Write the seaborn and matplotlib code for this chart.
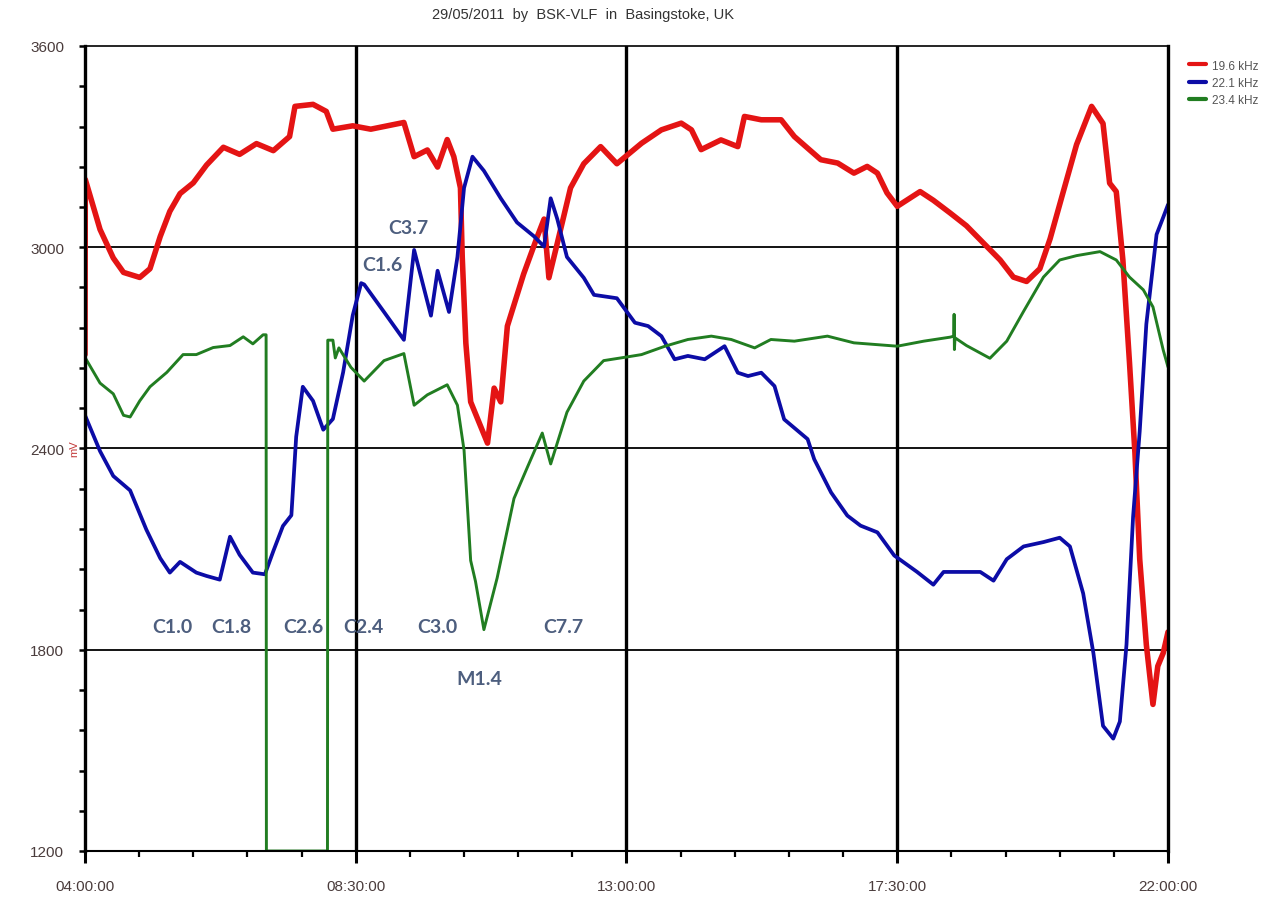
import numpy as np
import pandas as pd
import matplotlib
matplotlib.use("Agg")
import matplotlib.pyplot as plt
from matplotlib.lines import Line2D
import seaborn as sns

# ---------------------------------------------------------------------------
# Data (time in decimal hours, amplitude in mV)
# ---------------------------------------------------------------------------
red_t = [4.0, 4.005, 4.25, 4.47, 4.64, 4.91, 5.08, 5.25, 5.41, 5.58, 5.80, 6.02, 6.30, 6.57,
         6.85, 7.13, 7.40, 7.49, 7.79, 8.01, 8.12, 8.45, 8.75, 9.30, 9.47, 9.69, 9.86, 10.02,
         10.13, 10.24, 10.27, 10.33, 10.41, 10.69, 10.80, 10.91, 11.02, 11.29, 11.52, 11.63,
         11.71, 11.85, 12.07, 12.29, 12.57, 12.84, 13.25, 13.58, 13.91, 14.08, 14.24, 14.57,
         14.85, 14.96, 15.24, 15.57, 15.79, 16.23, 16.51, 16.78, 17.00, 17.17, 17.33, 17.50,
         17.88, 18.10, 18.38, 18.65, 18.93, 19.21, 19.43, 19.65, 19.87, 20.04, 20.26, 20.48,
         20.73, 20.92, 21.03, 21.14, 21.25, 21.36, 21.45, 21.53, 21.64, 21.75, 21.83, 21.92, 22.0]
red_mv = [2680, 3202, 3053, 2968, 2925, 2910, 2936, 3032, 3107, 3160, 3192, 3245, 3298, 3277,
          3309, 3288, 3330, 3420, 3426, 3405, 3352, 3362, 3352, 3372, 3270, 3290, 3239, 3321,
          3270, 3177, 2971, 2714, 2539, 2416, 2580, 2539, 2765, 2920, 3033, 3084,
          2909, 3012, 3177, 3249, 3300, 3249, 3310, 3350, 3370, 3350, 3291, 3320,
          3300, 3390, 3380, 3380, 3330, 3261, 3251, 3221, 3241, 3221, 3162, 3122,
          3166, 3140, 3102, 3064, 3013, 2962, 2911, 2898, 2936, 3025, 3166, 3306,
          3420, 3369, 3191, 3166, 2962, 2656, 2388, 2070, 1815, 1637, 1751, 1790, 1853]

blue_t = [4.0, 4.25, 4.47, 4.75, 5.02, 5.25, 5.41, 5.58, 5.85, 6.02, 6.24, 6.41, 6.57, 6.79,
          6.99, 7.13, 7.29, 7.43, 7.51, 7.62, 7.79, 7.96, 8.12, 8.29, 8.45, 8.59, 8.64, 8.97,
          9.30, 9.47, 9.75, 9.86, 10.05, 10.19, 10.30, 10.44, 10.63, 10.91, 11.18, 11.46, 11.63,
          11.74, 11.85, 12.01, 12.29, 12.46, 12.84, 13.14, 13.36, 13.58, 13.80, 14.02, 14.30,
          14.63, 14.85, 15.02, 15.24, 15.46, 15.62, 16.01, 16.12, 16.40, 16.67, 16.89, 17.17,
          17.45, 17.83, 18.10, 18.27, 18.65, 18.88, 19.10, 19.32, 19.60, 19.93, 20.20, 20.37,
          20.59, 20.76, 20.92, 21.09, 21.20, 21.31, 21.42, 21.53, 21.64, 21.81, 21.92, 22.0]
blue_mv = [2499, 2392, 2318, 2275, 2158, 2073, 2030, 2062, 2030, 2020, 2009, 2137, 2083, 2030,
           2025, 2094, 2169, 2201, 2435, 2584, 2542, 2456, 2488, 2627, 2797, 2893, 2889, 2807,
           2724, 2992, 2796, 2930, 2807, 2971, 3177, 3270, 3228, 3146, 3074, 3033, 3002,
           3146, 3084, 2971, 2909, 2858, 2848, 2775, 2765, 2735, 2666, 2676, 2666,
           2705, 2626, 2616, 2626, 2586, 2487, 2428, 2368, 2269, 2200, 2170, 2150,
           2081, 2032, 1994, 2032, 2032, 2032, 2006, 2070, 2108, 2121, 2134, 2108,
           1968, 1790, 1573, 1535, 1586, 1815, 2197, 2452, 2771, 3038, 3089, 3127]

green_t = [4.0, 4.005, 4.25, 4.47, 4.64, 4.75, 4.91, 5.08, 5.36, 5.63, 5.85, 6.13, 6.41, 6.63,
           6.79, 6.96, 7.01, 7.015, 8.03, 8.035, 8.12, 8.16, 8.22, 8.42, 8.64, 8.97, 9.30, 9.47,
           9.69, 10.02, 10.19, 10.30, 10.41, 10.49, 10.63, 10.85, 11.13, 11.35, 11.60, 11.74,
           12.01, 12.29, 12.62, 13.01, 13.25, 13.64, 14.02, 14.41, 14.74, 15.13, 15.40, 15.79,
           16.34, 16.78, 17.50, 17.94, 18.38, 18.44, 18.445, 18.45, 18.46, 18.65, 19.04, 19.32,
           19.60, 19.93, 20.20, 20.48, 20.87, 21.14, 21.36, 21.59, 21.75, 21.92, 22.0]
green_mv = [1200, 2670, 2595, 2563, 2499, 2494, 2542, 2584, 2627, 2680, 2680, 2701, 2707, 2733,
            2712, 2739, 2739, 1200, 1200, 2723, 2723, 2670, 2700, 2642, 2601, 2662, 2683, 2529,
            2560, 2590, 2529, 2395, 2066, 2004, 1860, 2014, 2251, 2343, 2446, 2354,
            2508, 2601, 2662, 2673, 2680, 2705, 2725, 2735, 2725, 2700, 2725, 2720,
            2735, 2715, 2705, 2720, 2732, 2735, 2800, 2695, 2730, 2707, 2669, 2720,
            2809, 2911, 2962, 2975, 2987, 2962, 2911, 2873, 2822, 2694, 2643]

series_names = ["19.6 kHz", "22.1 kHz", "23.4 kHz"]

x_ticks = [4.0, 8.5, 13.0, 17.5, 22.0]
x_tick_labels = ["04:00:00", "08:30:00", "13:00:00", "17:30:00", "22:00:00"]
y_ticks = [1200, 1800, 2400, 3000, 3600]

# flare annotations: label, time (h), mV
flare_labels = ["C1.0", "C1.8", "C2.6", "C2.4", "C3.0", "C7.7", "M1.4", "C3.7", "C1.6"]
flare_t = [5.45, 6.43, 7.63, 8.62, 9.85, 11.95, 10.55, 9.38, 8.95]
flare_mv = [1868, 1868, 1868, 1868, 1868, 1868, 1713, 3060, 2950]

# ---------------------------------------------------------------------------
# Styling
# ---------------------------------------------------------------------------
RED = "#e41414"
BLUE = "#0c0ca6"
GREEN = "#217d21"
TICK_TEXT = "#4a3c3c"
NOTE_TEXT = "#4d5e7e"

sns.set_theme(style="white")
plt.rcParams["font.family"] = ["Liberation Sans", "DejaVu Sans"]

frames = []
for name, t, v in zip(series_names, [red_t, blue_t, green_t], [red_mv, blue_mv, green_mv]):
    frames.append(pd.DataFrame({"time": t, "mV": v, "freq": name}))
df = pd.concat(frames, ignore_index=True)

palette = {"19.6 kHz": RED, "22.1 kHz": BLUE, "23.4 kHz": GREEN}
widths = {"19.6 kHz": 4.0, "22.1 kHz": 2.7, "23.4 kHz": 2.1}

fig = plt.figure(figsize=(12.85, 9.03), dpi=100)
ax = fig.add_axes([85 / 1285, 1 - 852 / 903, (1168 - 85) / 1285, (852 - 47) / 903])

# grid lines
for yv in [1800, 2400, 3000]:
    ax.axhline(yv, color="black", lw=1.3, zorder=1.5)
for xv in [8.5, 13.0, 17.5]:
    ax.axvline(xv, color="black", lw=2.4, zorder=1.5)

for name in series_names:
    sub = df[df["freq"] == name]
    sns.lineplot(data=sub, x="time", y="mV", color=palette[name], lw=widths[name],
                 estimator=None, sort=False, ax=ax, legend=False, zorder=2)

ax.set_xlim(4, 22)
ax.set_ylim(1200, 3600)
ax.set_xlabel("")
ax.set_ylabel("")

ax.set_xticks(x_ticks)
ax.set_xticklabels(x_tick_labels)
ax.set_xticks(np.arange(4, 22.01, 0.9), minor=True)
ax.set_yticks(y_ticks)
ax.set_yticks(np.arange(1200, 3601, 120), minor=True)

ax.tick_params(axis="x", which="major", direction="out", length=8.5, width=2.2,
               color="black", pad=12, labelsize=11, labelcolor=TICK_TEXT, bottom=True)
ax.tick_params(axis="x", which="minor", direction="out", length=4.5, width=1.6,
               color="black", bottom=True)
ax.tick_params(axis="y", which="major", direction="out", length=4, width=1.8,
               color="black", pad=11, labelsize=11, labelcolor=TICK_TEXT, left=True)
ax.tick_params(axis="y", which="minor", direction="out", length=4, width=1.8,
               color="black", left=True)

for side, lw in [("left", 2.4), ("right", 2.4), ("top", 1.2), ("bottom", 1.5)]:
    ax.spines[side].set_visible(True)
    ax.spines[side].set_color("black")
    ax.spines[side].set_linewidth(lw)

for lab, t, v in zip(flare_labels, flare_t, flare_mv):
    ax.text(t, v, lab, ha="center", va="center", fontsize=14, fontweight="bold",
            color=NOTE_TEXT, family=["Lato", "DejaVu Sans"], zorder=3)

fig.text(583 / 1285, 1 - 15 / 903, "29/05/2011  by  BSK-VLF  in  Basingstoke, UK",
         ha="center", va="center", fontsize=10.5, color="#333333")
fig.text(74 / 1285, 1 - 449 / 903, "mV", rotation=90, ha="center", va="center",
         fontsize=8, color="#c23a3a")

handles = [Line2D([0], [0], color=palette[n], lw=3) for n in series_names]
leg = fig.legend(handles, series_names, loc="upper left",
                 bbox_to_anchor=(1178 / 1285, 1 - 50 / 903), frameon=False,
                 fontsize=8.5, handlelength=1.5, labelspacing=0.45, handletextpad=0.5)
for txt in leg.get_texts():
    txt.set_color("#555555")

fig.savefig("out.png", dpi=100, facecolor="white")
